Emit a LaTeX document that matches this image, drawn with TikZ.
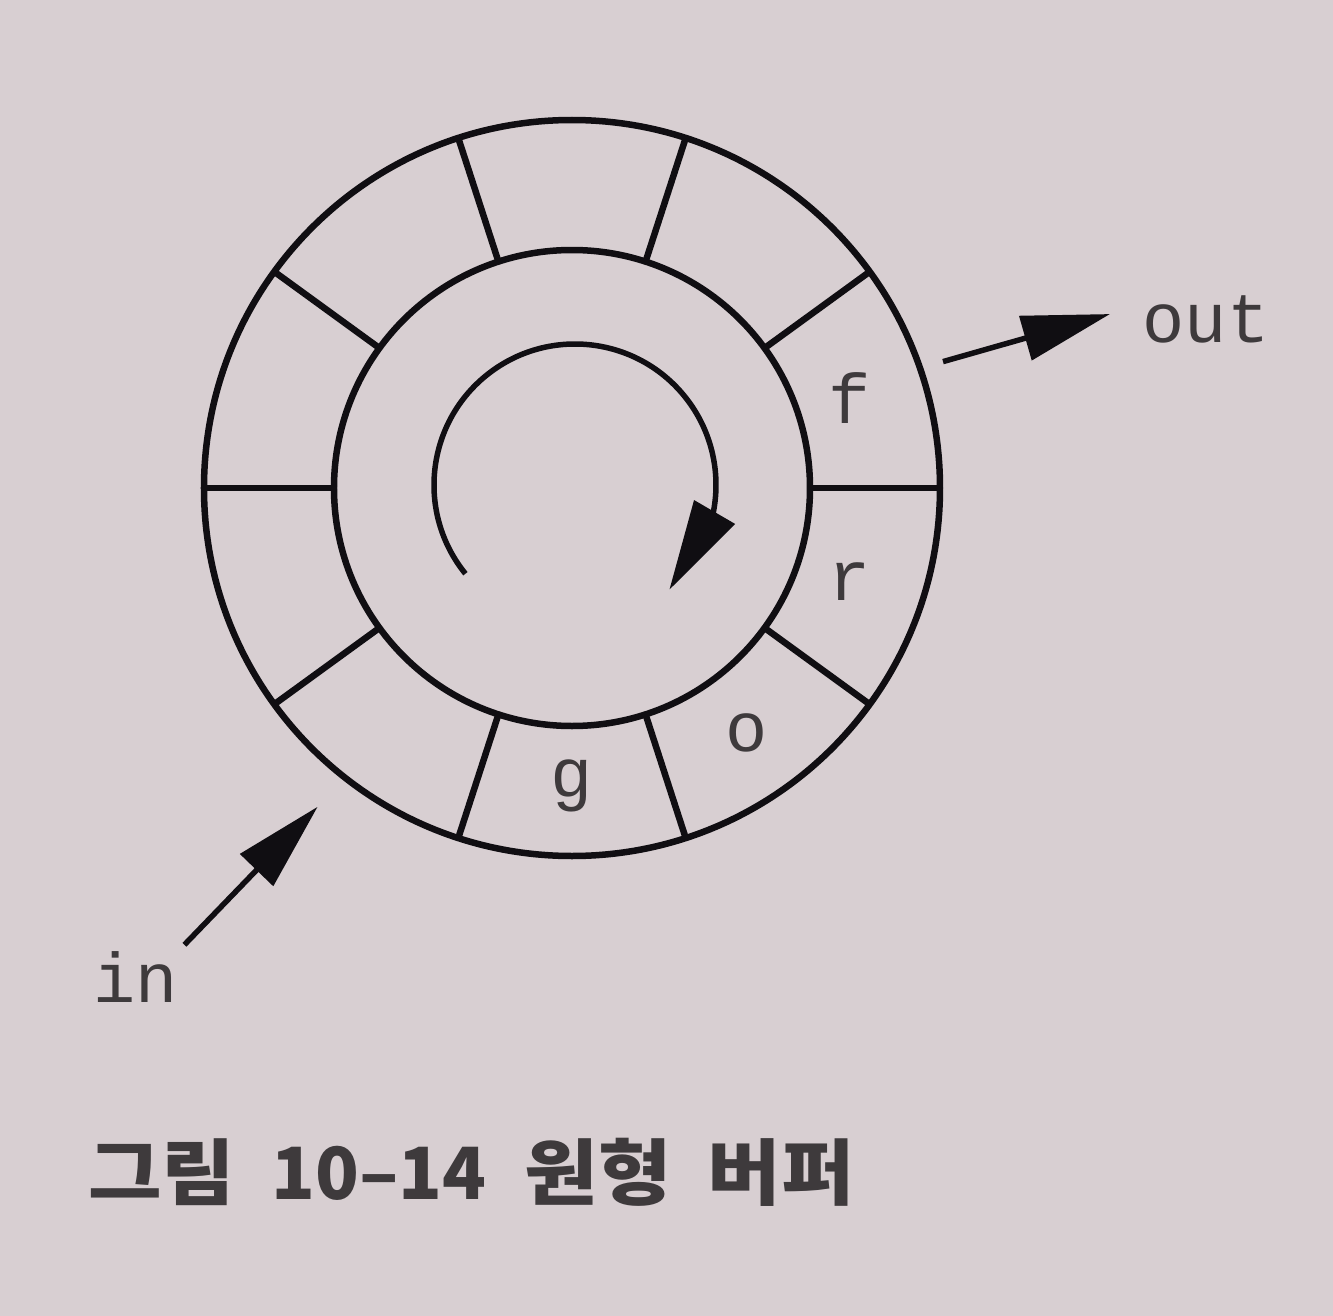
\documentclass[tikz,border=0pt]{standalone}
\usepackage{fontspec}
\setmonofont{Liberation Mono}
\newfontfamily\kofont{Noto Sans CJK KR}[FakeStretch=1.11]
\newfontfamily\konum{Noto Sans CJK KR}
\usetikzlibrary{arrows.meta,bending}
\definecolor{paper}{RGB}{216,207,210}
\definecolor{ink}{RGB}{16,14,18}
\definecolor{print}{RGB}{62,58,60}

\begin{document}
\begin{tikzpicture}[>={Triangle[length=0.88cm,width=0.45cm]},line width=0.065cm,
    ring node/.style={circle,draw=ink,inner sep=0pt,outer sep=0pt},
    cell node/.style={font=\ttfamily\fontsize{20}{24}\selectfont,text=print,inner sep=1pt},
    ptr/.style={->,draw=ink,line width=0.055cm}]
    \fill[paper] (-5.72,4.88) rectangle (7.61,-8.28);
    \useasboundingbox (-5.72,4.88) rectangle (7.61,-8.28);

    % the buffer
    \node[ring node,minimum size=7.36cm] (ring) at (0,0) {};
    \node[ring node,minimum size=4.76cm] (hub) at (0,0) {};
    \foreach \a in {0,36,...,324}
        \draw[ink] (hub.\a) -- (ring.\a);

    \node[cell node] (f) at (2.78,0.90) {f};
    \node[cell node] (r) at (2.78,-0.94) {r};
    \node[cell node] (o) at (1.75,-2.45) {o};
    \node[cell node] (g) at (0,-2.98) {g};

    % direction of travel
    \draw[ink,line width=0.055cm,-{Triangle[length=0.9cm,width=0.46cm,flex]}]
        (0.03,0.03) ++(219:1.41) arc[start angle=219,end angle=-48,radius=1.41];

    % in and out
    \node[cell node] (out) at (6.34,1.69) {out};
    \node[cell node] (in) at (-4.365,-4.89) {in};
    \draw[ptr,shorten <=0.24cm,shorten >=0.27cm] (ring.19) -- (out.170);
    \draw[ptr,shorten >=0.4cm] (in.north east) -- (ring.232);

    \node[font=\kofont\bfseries\fontsize{20.5}{24}\selectfont,text=print,anchor=west,inner sep=0pt]
        (caption) at (-4.87,-6.84)
        {그림\hspace{0.36cm}{\konum 10–14}\hspace{0.38cm}원형\hspace{0.36cm}버퍼};
\end{tikzpicture}
\end{document}
